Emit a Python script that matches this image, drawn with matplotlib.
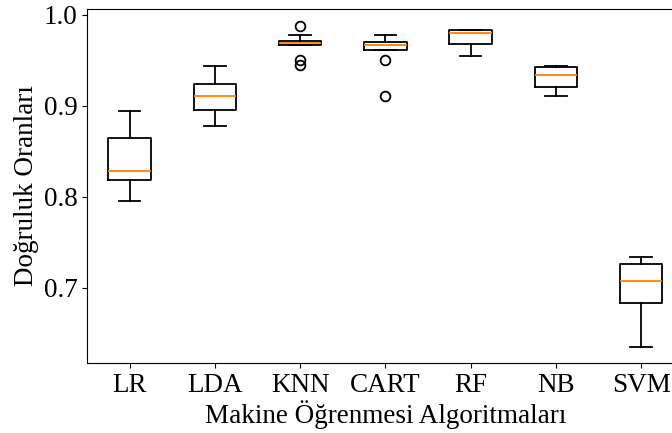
import matplotlib
matplotlib.use("Agg")
import matplotlib.pyplot as plt

plt.rcParams['font.family'] = ['Liberation Serif', 'DejaVu Serif']

# algoritmalar ve kutu istatistikleri
algoritmalar = ['LR', 'LDA', 'KNN', 'CART', 'RF', 'NB', 'SVM']
alt_biyik = [0.7956, 0.878, 0.9667, 0.961, 0.955, 0.911, 0.6355]
q1 = [0.819, 0.896, 0.9667, 0.9615, 0.9678, 0.9205, 0.6838]
medyan = [0.8289, 0.911, 0.9696, 0.9667, 0.9806, 0.9337, 0.7073]
q3 = [0.8652, 0.9238, 0.9718, 0.9707, 0.9832, 0.9432, 0.7264]
ust_biyik = [0.8948, 0.9443, 0.9777, 0.9777, 0.9832, 0.9443, 0.7344]
aykiri = [[], [], [0.9882, 0.9505, 0.9455], [0.950, 0.911], [], [], []]

istatistik = []
for i in range(len(algoritmalar)):
    istatistik.append({
        'label': algoritmalar[i],
        'whislo': alt_biyik[i], 'q1': q1[i], 'med': medyan[i],
        'q3': q3[i], 'whishi': ust_biyik[i], 'fliers': aykiri[i],
    })

fig = plt.figure(figsize=(6.72, 4.33), dpi=100)
# sag kenar resmin disinda kaliyor (orijinal kesilmis)
ax = fig.add_axes([0.1295, 0.1617, 0.888, 0.8176])
ax.bxp(istatistik,
       boxprops=dict(linewidth=1.3),
       whiskerprops=dict(linewidth=1.3),
       capprops=dict(linewidth=1.3),
       medianprops=dict(linewidth=1.3, color='#ff7f0e'),
       flierprops=dict(marker='o', markersize=7, markerfacecolor='none',
                       markeredgewidth=1.3))
ax.set_ylim(0.6176, 1.0066)
ax.set_yticks([0.7, 0.8, 0.9, 1.0])
ax.tick_params(labelsize=19.5)
ax.set_xlabel('Makine Öğrenmesi Algoritmaları', fontsize=19.5, labelpad=2)
ax.set_ylabel('Doğruluk Oranları', fontsize=19.5, labelpad=3)

fig.savefig('out.png', dpi=100)
